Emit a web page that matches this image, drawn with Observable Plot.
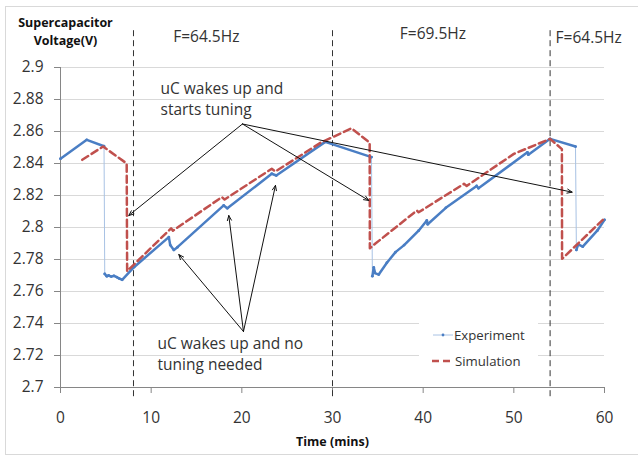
<!DOCTYPE html>
<html><head><meta charset="utf-8">
<script src="https://cdn.jsdelivr.net/npm/d3@7"></script>
<script src="https://cdn.jsdelivr.net/npm/@observablehq/plot@0.6"></script>
<style>
html,body{margin:0;padding:0;background:#fff;}
#wrap{position:relative;width:638px;height:457px;overflow:hidden;}
#frame{position:absolute;left:5px;top:6px;width:640px;height:449px;border:1px solid #d9d9d9;border-right:none;box-sizing:border-box;}
#wrap svg{position:absolute;left:0;top:0;}
</style></head><body><div id="wrap"><div id="frame"></div></div>
<script>
// Experiment (measured) series
const expTime = [0, 2.9, 4.8, 4.88, 5.1, 5.3, 5.6, 5.9, 6.2, 6.5, 6.8, 8.1, 11.95, 12.1, 12.5, 12.9, 18.0, 18.4, 23.3, 23.8, 29.2, 34.3, 34.4, 34.55, 34.7, 35.1, 36.0, 36.95, 37.9, 39.5, 40.4, 40.5, 42.5, 45.9, 46.1, 51.5, 51.6, 54.0, 56.8, 56.9, 57.1, 57.6, 59.2, 60];
const expVolt = [2.843, 2.8548, 2.8508, 2.771, 2.7695, 2.770, 2.7693, 2.7698, 2.769, 2.768, 2.7673, 2.7752, 2.794, 2.789, 2.786, 2.7877, 2.8138, 2.812, 2.8336, 2.8325, 2.8535, 2.8440, 2.7696, 2.775, 2.7715, 2.7706, 2.778, 2.7846, 2.789, 2.798, 2.8044, 2.802, 2.8123, 2.826, 2.8245, 2.847, 2.8455, 2.8554, 2.8506, 2.786, 2.7894, 2.788, 2.798, 2.8048];
// Simulation series
const simTime = [2.4, 4.7, 7.3, 7.35, 12.2, 12.4, 17.8, 18.1, 23.3, 23.7, 28.7, 32.1, 34.1, 34.12, 34.7, 39.3, 39.5, 44.5, 44.8, 50.0, 54.0, 55.3, 55.32, 60];
const simVolt = [2.8423, 2.8506, 2.8400, 2.7727, 2.7995, 2.798, 2.8190, 2.8175, 2.8367, 2.835, 2.853, 2.862, 2.853, 2.787, 2.7898, 2.8106, 2.8095, 2.8273, 2.826, 2.846, 2.8554, 2.849, 2.7804, 2.8058];
// Axes
const xTicks = [0, 10, 20, 30, 40, 50, 60];
const yTicks = [2.7, 2.72, 2.74, 2.76, 2.78, 2.8, 2.82, 2.84, 2.86, 2.88, 2.9];
const yTickLabels = ["2.7", "2.72", "2.74", "2.76", "2.78", "2.8", "2.82", "2.84", "2.86", "2.88", "2.9"];
const xTitle = "Time (mins)";
const yTitle = "Supercapacitor\nVoltage(V)";
// Frequency regions
const boundaryTimes = [8.05, 30, 54];
const freqLabels = ["F=64.5Hz", "F=69.5Hz", "F=64.5Hz"];
const freqLabelTime = [12.43, 37.42, 54.6];
const freqLabelVolt = [2.919, 2.921, 2.9183];
// Annotations
const annTexts = ["uC wakes up and\nstarts tuning", "uC wakes up and no\ntuning needed"];
const annTime = [11.03, 10.7];
const annVolt = [2.8809, 2.7216];
const arrowFromTime = [20.07, 20.07, 20.07, 20.18, 20.18, 20.18];
const arrowFromVolt = [2.8647, 2.8647, 2.8647, 2.735, 2.735, 2.735];
const arrowToTime = [7.53, 34.0, 56.43, 13.05, 18.56, 23.71];
const arrowToVolt = [2.8075, 2.8169, 2.8221, 2.7831, 2.8075, 2.8263];
const seriesNames = ["Experiment", "Simulation"];

let seg = 0;
const expRows = expTime.map((t, i) => {
  if (i > 0 && expVolt[i - 1] - expVolt[i] > 0.03) seg++;
  return {t, v: expVolt[i], seg};
});
const simRows = simTime.map((t, i) => ({t, v: simVolt[i]}));
const freqRows = freqLabels.map((s, i) => ({s, t: freqLabelTime[i], v: freqLabelVolt[i]}));
const annRows = annTexts.map((s, i) => ({s, t: annTime[i], v: annVolt[i]}));
const arrowRows = arrowFromTime.map((t, i) => ({x1: t, y1: arrowFromVolt[i], x2: arrowToTime[i], y2: arrowToVolt[i]}));

const BLUE = "#4a7ec4", LIGHT = "#a8c2e4", RED = "#c0504d", TXT = "#333333";

const chart = Plot.plot({
  width: 638, height: 457,
  marginLeft: 60, marginRight: 34, marginTop: 67, marginBottom: 70,
  style: {fontFamily: "'Open Sans', sans-serif", fontSize: "15.5px", color: TXT, background: "transparent"},
  x: {domain: [0, 60]},
  y: {domain: [2.7, 2.9]},
  marks: [
    Plot.gridY(yTicks.slice(1), {stroke: "#d9d9d9", strokeOpacity: 1, strokeWidth: 1}),
    Plot.axisY({ticks: yTicks, tickFormat: (d, i) => yTickLabels[i], tickSize: 6, tickPadding: 11, stroke: "#868686", fill: TXT, label: null}),
    Plot.axisX({ticks: xTicks, tickSize: 6, tickPadding: 18.7, stroke: "#868686", fill: TXT, label: null}),
    Plot.ruleX([0], {stroke: "#868686"}),
    Plot.ruleY([2.7], {stroke: "#868686"}),
    Plot.ruleX(boundaryTimes, {y1: 2.923, y2: 2.6919, stroke: "#333", strokeWidth: 1, strokeDasharray: "6,4"}),
    Plot.line(expRows, {x: "t", y: "v", stroke: LIGHT, strokeWidth: 1}),
    Plot.line(expRows, {x: "t", y: "v", z: "seg", stroke: BLUE, strokeWidth: 2.5}),
    Plot.dot(expRows, {x: "t", y: "v", r: 1.4, fill: BLUE}),
    Plot.line(simRows, {x: "t", y: "v", stroke: RED, strokeWidth: 2.5, strokeDasharray: "7,4"}),
    Plot.arrow(arrowRows, {x1: "x1", y1: "y1", x2: "x2", y2: "y2", stroke: "#111", strokeWidth: 1, headLength: 8, headAngle: 45}),
    Plot.text(freqRows, {x: "t", y: "v", text: "s", textAnchor: "start", fill: TXT, fontSize: 15.5}),
    Plot.text(annRows, {x: "t", y: "v", text: "s", textAnchor: "start", fill: TXT, fontSize: 15.5, lineHeight: 1.355}),
    Plot.text([xTitle], {frameAnchor: "bottom", lineAnchor: "middle", dy: 54, fontWeight: "bold", fontSize: 12.5, fill: "#111"}),
    Plot.text([yTitle], {frameAnchor: "top-left", lineAnchor: "middle", dx: 5, dy: -37, textAnchor: "middle", fontWeight: "bold", fontSize: 12.5, lineHeight: 1.44, fill: "#111"})
  ]
});

// Legend
const g = d3.select(chart).append("g").attr("font-family", "'Open Sans', sans-serif").attr("font-size", 13.2).attr("fill", TXT).attr("text-anchor", "start");
g.append("rect").attr("x", 419).attr("y", 312).attr("width", 119).attr("height", 58).attr("fill", "white");
g.append("line").attr("x1", 433).attr("x2", 453).attr("y1", 335).attr("y2", 335).attr("stroke", LIGHT).attr("stroke-width", 1);
g.append("circle").attr("cx", 443).attr("cy", 335).attr("r", 1.4).attr("fill", BLUE);
g.append("text").attr("x", 454).attr("y", 335).attr("dy", "0.35em").text(seriesNames[0]);
g.append("line").attr("x1", 432).attr("x2", 454).attr("y1", 361).attr("y2", 361).attr("stroke", RED).attr("stroke-width", 2.5).attr("stroke-dasharray", "7,4");
g.append("text").attr("x", 455).attr("y", 361).attr("dy", "0.35em").text(seriesNames[1]);

document.getElementById("wrap").appendChild(chart);
</script>
</body></html>
